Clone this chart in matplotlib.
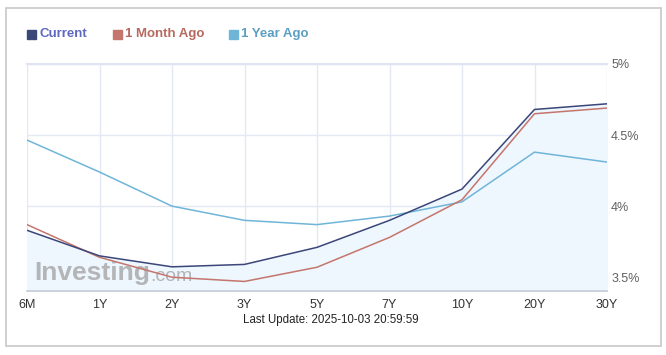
import matplotlib
matplotlib.use("Agg")
import matplotlib.pyplot as plt
from matplotlib.patches import Rectangle

categories = ["6M", "1Y", "2Y", "3Y", "5Y", "7Y", "10Y", "20Y", "30Y"]
current = [3.83, 3.65, 3.573, 3.59, 3.71, 3.90, 4.12, 4.68, 4.72]
month_ago = [3.87, 3.64, 3.50, 3.47, 3.57, 3.78, 4.045, 4.65, 4.69]
year_ago = [4.465, 4.24, 4.00, 3.90, 3.87, 3.93, 4.03, 4.38, 4.31]
ytick_vals = [3.5, 4.0, 4.5, 5.0]
ytick_labels = ["3.5%", "4%", "4.5%", "5%"]
series_names = ["Current", "1 Month Ago", "1 Year Ago"]

c_cur = "#3b4679"
c_mon = "#c4766c"
c_year = "#6fb5d8"
t_cur = "#5f68c0"
t_mon = "#b8695f"
t_year = "#5d9fc2"

plt.rcParams['font.family'] = ['Liberation Sans', 'DejaVu Sans']

W, H = 666, 355
fig = plt.figure(figsize=(W / 100, H / 100), dpi=100)
fig.patch.set_facecolor("white")

# outer frame
fig.add_artist(Rectangle((5.5 / W, 1 - 346 / H), 655 / W, 338 / H,
                         transform=fig.transFigure, fill=False,
                         edgecolor="#c8c8c8", linewidth=1.2))

ax = fig.add_axes([27 / W, 1 - 290.7 / H, 580 / W, 226.7 / H])
x = list(range(len(categories)))
ax.set_xlim(0, len(categories) - 1)
ax.set_ylim(3.405, 5.0)

ax.fill_between(x, current, 3.405, color="#eef6fe", zorder=1)
ax.plot(x, year_ago, color=c_year, lw=1.1, zorder=3)
ax.plot(x, month_ago, color=c_mon, lw=1.1, zorder=4)
ax.plot(x, current, color=c_cur, lw=1.1, zorder=5)

ax.set_xticks(x)
ax.set_xticklabels(categories)
ax.set_yticks(ytick_vals)
ax.set_yticklabels(ytick_labels)
ax.yaxis.tick_right()
ax.grid(True, color="#e4e8f4", lw=1.0, zorder=0)
ax.set_axisbelow(True)
ax.tick_params(axis="both", length=0, labelsize=9, colors="#333333")
ax.tick_params(axis="x", pad=6)
ax.tick_params(axis="y", pad=3, labelcolor="#606060")
for s in ["left", "right"]:
    ax.spines[s].set_visible(False)
ax.spines["top"].set_color("#e0e4f2")
ax.spines["top"].set_linewidth(1.5)
ax.spines["bottom"].set_color("#c6cad6")
ax.spines["bottom"].set_linewidth(1.2)

# watermark
wm = ax.text(0.013, 0.025, "Investing", transform=ax.transAxes, fontsize=19,
             fontweight="bold", color="#a0a0a0", alpha=0.75, zorder=2,
             va="bottom")
ax.annotate(".com", xy=(1, 0), xycoords=wm, xytext=(0, 0),
            textcoords="offset points", fontsize=14, color="#a0a0a0",
            alpha=0.75, zorder=2, va="bottom", ha="left",
            annotation_clip=False)

# legend
legend_items = [(27, series_names[0], c_cur, t_cur),
                (113, series_names[1], c_mon, t_mon),
                (229, series_names[2], c_year, t_year)]
for px, name, c, tc in legend_items:
    fig.add_artist(Rectangle((px / W, 1 - 38.5 / H), 9 / W, 9 / H,
                             transform=fig.transFigure, color=c))
    fig.text((px + 12) / W, 1 - 34 / H, name, fontsize=9.5, fontweight="bold",
             color=tc, va="center", ha="left")

fig.text(331 / W, 1 - 320 / H, "Last Update: 2025-10-03 20:59:59",
         fontsize=8.3, color="#222222", ha="center", va="center")

fig.savefig("out.png", dpi=100, facecolor="white")
